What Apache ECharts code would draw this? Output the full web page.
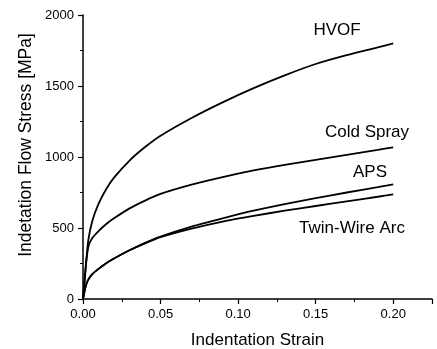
<!DOCTYPE html>
<html>
<head>
<meta charset="utf-8">
<script src="https://cdn.jsdelivr.net/npm/echarts@6/dist/echarts.min.js"></script>
<style>html,body{margin:0;padding:0;background:#fff}#c{width:437px;height:349px}</style>
</head>
<body>
<div id="c"></div>
<script>
const strain = [0, 0.001, 0.002, 0.0035, 0.006, 0.01, 0.015, 0.02, 0.03, 0.04, 0.05, 0.07, 0.09, 0.11, 0.13, 0.15, 0.17, 0.19, 0.2];
const hvof = [0, 130, 260, 420, 550, 670, 775, 855, 975, 1070, 1150, 1275, 1385, 1485, 1575, 1655, 1717, 1772, 1800];
const coldSpray = [0, 120, 250, 370, 430, 478, 528, 568, 638, 693, 740, 805, 858, 905, 945, 980, 1015, 1050, 1068];
const aps = [0, 55, 100, 138, 175, 212, 252, 285, 343, 395, 440, 510, 568, 622, 668, 710, 750, 788, 808];
const twa = [0, 55, 100, 138, 175, 212, 252, 285, 343, 392, 435, 495, 545, 585, 622, 655, 687, 720, 737];
const xTicks = [0, 0.05, 0.10, 0.15, 0.20];
const yTicks = [0, 500, 1000, 1500, 2000];
const seriesNames = ['HVOF', 'Cold Spray', 'APS', 'Twin-Wire Arc'];

const pair = arr => strain.map((x, i) => [x, arr[i]]);
const FONT = 'Arial, "Liberation Sans", sans-serif';
const chart = echarts.init(document.getElementById('c'), null, {renderer: 'canvas'});
const axisCommon = {
  axisLine: {show: true, lineStyle: {color: '#000', width: 1.5}},
  axisTick: {show: true, inside: false, length: 5, lineStyle: {color: '#000', width: 1.2}},
  minorTick: {show: true, splitNumber: 2, length: 3, lineStyle: {color: '#000', width: 1}},
  splitLine: {show: false},
  axisLabel: {color: '#000', fontFamily: FONT, fontSize: 13}
};
const lineSeries = (name, arr) => ({
  name, type: 'line', data: pair(arr), showSymbol: false, smooth: 0.25,
  lineStyle: {color: '#000', width: 1.8}, animation: false
});
chart.setOption({
  animation: false,
  grid: {left: 83, right: 5, top: 15, bottom: 50, containLabel: false, outerBoundsMode: 'none'},
  xAxis: Object.assign({}, axisCommon, {
    type: 'value', min: 0, max: 0.225, interval: 0.05,
    name: 'Indentation Strain', nameLocation: 'middle', nameGap: 33,
    nameTextStyle: {color: '#000', fontFamily: FONT, fontSize: 17},
    axisLabel: Object.assign({}, axisCommon.axisLabel, {
      margin: 9, showMaxLabel: false,
      formatter: v => xTicks.some(t => Math.abs(t - v) < 1e-9) ? v.toFixed(2) : ''
    })
  }),
  yAxis: Object.assign({}, axisCommon, {
    type: 'value', min: 0, max: 2000, interval: 500,
    axisLabel: Object.assign({}, axisCommon.axisLabel, {
      margin: 9,
      formatter: v => yTicks.includes(v) ? String(v) : ''
    })
  }),
  graphic: [
    {type: 'text', x: 26, y: 145, rotation: Math.PI / 2,
     style: {text: 'Indetation Flow Stress [MPa]', font: '17.5px ' + FONT, fill: '#000', align: 'center', verticalAlign: 'middle'}},
    {type: 'text', x: 337, y: 30, style: {text: seriesNames[0], font: '17px ' + FONT, fill: '#000', align: 'center', verticalAlign: 'middle'}},
    {type: 'text', x: 367, y: 132, style: {text: seriesNames[1], font: '17px ' + FONT, fill: '#000', align: 'center', verticalAlign: 'middle'}},
    {type: 'text', x: 370, y: 172, style: {text: seriesNames[2], font: '17px ' + FONT, fill: '#000', align: 'center', verticalAlign: 'middle'}},
    {type: 'text', x: 352, y: 228, style: {text: seriesNames[3], font: '17px ' + FONT, fill: '#000', align: 'center', verticalAlign: 'middle'}}
  ],
  series: [
    lineSeries(seriesNames[0], hvof),
    lineSeries(seriesNames[1], coldSpray),
    lineSeries(seriesNames[2], aps),
    lineSeries(seriesNames[3], twa)
  ]
});
</script>
</body>
</html>
